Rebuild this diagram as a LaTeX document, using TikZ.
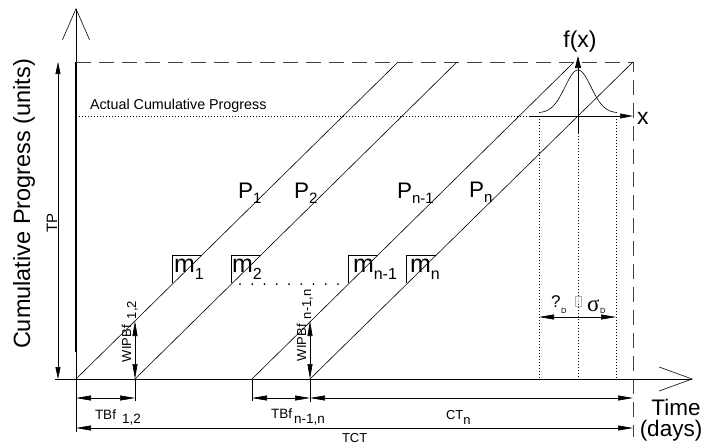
\documentclass[tikz,border=0pt]{standalone}
\usepackage{fontspec}
\setmainfont{Liberation Sans}
\newfontfamily\serfont{Liberation Serif}
\usetikzlibrary{arrows.meta}
\newcommand\fsz[1]{\fontsize{#1}{#1}\selectfont}
\begin{document}
\begin{tikzpicture}[x=1pt,y=-1pt,
  thinl/.style={line width=0.6pt},
  dimarr/.style={line width=0.6pt,{Triangle[length=15pt,width=5pt]}-{Triangle[length=15pt,width=5pt]}},
  dotl/.style={line width=0.6pt,dash pattern=on 1pt off 2pt},
  txt/.style={inner sep=0pt,outer sep=0pt},
]
\useasboundingbox (0,0) rectangle (707,445);
% key coordinates
\coordinate (O) at (76,379);
\coordinate (P1s) at (76,379);  \coordinate (P1e) at (398,62);
\coordinate (P2s) at (135,379); \coordinate (P2e) at (457,62);
\coordinate (P3s) at (252,379); \coordinate (P3e) at (574,62);
\coordinate (P4s) at (310,379); \coordinate (P4e) at (633,62);
% y axis
\draw[line width=1.6pt] (76,62) -- (76,352);
\draw[line width=0.9pt] (76,352) -- (O);
\draw[thinl,-{Straight Barb[length=31pt,width=27pt]}] (76,62) -- (76,8);
% x axis
\draw[line width=1pt] (55,379) -- (457,379);
\draw[thinl,-{Straight Barb[length=33pt,width=24pt]}] (457,379) -- (693,379);
% dashed limits
\draw[line width=1pt,black!75,dash pattern=on 15pt off 8pt] (76,62) -- (633,62) -- (633,437);
% actual progress dotted line
\draw[dotl] (76,116) -- (530,116);
\node[txt,anchor=base west,font=\fsz{14.3}] (acp) at (90,109.5) {Actual Cumulative Progress};
% TP dimension
\draw[line width=0.6pt,{Triangle[length=12pt,width=5pt]}-{Triangle[length=12pt,width=5pt]}] (58,62) -- (58,379);
\node[txt,rotate=90,anchor=south,font=\fsz{15}] (tp) at (57,223) {TP};
% axis titles
\node[txt,rotate=90,font=\fsz{23.5}] (ytitle) at (24,204) {Cumulative Progress (units)};
\node[txt,anchor=base,font=\fsz{22.5}] (xtitle1) at (676,415) {Time};
\node[txt,anchor=base,font=\fsz{22.5}] (xtitle2) at (671,436) {(days)};
% production lines
\draw[thinl] (P1s) -- (P1e);
\draw[thinl] (P2s) -- (P2e);
\draw[thinl] (P3s) -- (P3e);
\draw[thinl] (P4s) -- (P4e);
\node[txt,anchor=base west,font=\fsz{22.5}] (lp1) at (238,198) {P\raisebox{-5pt}{\fsz{15}1}};
\node[txt,anchor=base west,font=\fsz{22.5}] (lp2) at (294,198) {P\raisebox{-5pt}{\fsz{15}2}};
\node[txt,anchor=base west,font=\fsz{22.5}] (lp3) at (397,198) {P\raisebox{-5pt}{\fsz{15}n-1}};
\node[txt,anchor=base west,font=\fsz{22.5}] (lp4) at (469,197) {P\raisebox{-5pt}{\fsz{15}n}};
% slope boxes
\draw[thinl] (172,283) -- (172,255) -- (202,255);
\draw[thinl] (231,283) -- (231,255) -- (261,255);
\draw[thinl] (348,283) -- (348,255) -- (378,255);
\draw[thinl] (406,283) -- (406,255) -- (436,255);
\node[txt,anchor=base west,font=\fsz{25}] (m1) at (174,272) {m\raisebox{-7pt}{\fsz{16}1}};
\node[txt,anchor=base west,font=\fsz{25}] (m2) at (232,272) {m\raisebox{-7pt}{\fsz{16}2}};
\node[txt,anchor=base west,font=\fsz{25}] (m3) at (353,272) {m\raisebox{-7pt}{\fsz{16}n-1}};
\node[txt,anchor=base west,font=\fsz{25}] (m4) at (410,272) {m\raisebox{-7pt}{\fsz{16}n}};
\foreach \k in {0,...,8} \fill (240+\k*12.25,284) circle (1pt);
% WIP buffers
\draw[dimarr] (135,379) -- (135,321);
\draw[dimarr] (310,379) -- (310,321);
\node[txt,rotate=90,anchor=base west,font=\fsz{13}] (w1) at (131,362) {WIPBf\hspace{6pt}\raisebox{-5pt}{1,2}};
\node[txt,rotate=90,anchor=base west,font=\fsz{13}] (w2) at (306,361) {WIPBf\hspace{5pt}\raisebox{-5pt}{n-1,n}};
% extension lines
\draw[thinl] (76,379) -- (76,432);
\draw[thinl] (135,379) -- (135,401);
\draw[thinl] (252,379) -- (252,401);
\draw[thinl] (310,379) -- (310,402);
% time dimensions
\draw[dimarr] (76,398) -- (135,398);
\draw[dimarr] (252,398) -- (310,398);
\draw[dimarr] (310,398) -- (633,398);
\draw[dimarr] (76,428) -- (633,428);
\node[txt,anchor=base west,font=\fsz{13.5}] (t1) at (95,419) {TBf\hspace{6pt}\raisebox{-4.5pt}{1,2}};
\node[txt,anchor=base west,font=\fsz{13.5}] (t2) at (271,418) {TBf\hspace{2pt}\raisebox{-5pt}{n-1,n}};
\node[txt,anchor=base west,font=\fsz{13}] (ctn) at (446,419) {CT\raisebox{-5pt}{n}};
\node[txt,anchor=base west,font=\fsz{13}] (tct) at (342,442) {TCT};
% distribution
\draw[thinl,-{Triangle[length=13pt,width=5pt]}] (530,116) -- (633,116);
\node[txt,anchor=west,font=\fsz{23}] (xl) at (637,118) {x};
\draw[thinl,-{Triangle[length=12pt,width=6pt]}] (578,133) -- (578,56);
\draw[dotl] (578,133) -- (578,379);
\node[txt,font=\fsz{23}] (fx) at (580,42) {f(x)};
\draw[dotl] (539,116) -- (539,379);
\draw[dotl] (616,116) -- (616,379);
\draw[thinl,domain=539:617,samples=80,smooth] plot (\x,{113-43*exp(-0.5*(\x-578)*(\x-578)/169)});
\draw[dimarr] (539,317) -- (616,317);
\node[txt,anchor=base west,font=\fsz{17}] (mu) at (551,307) {?};
\node[txt,anchor=base west,font=\fsz{7.5}] (mud) at (561,313) {D};
\draw[gray!60,line width=0.5pt] (575,296) rectangle (581,306);
\draw[gray!60,line width=0.4pt,dash pattern=on 0.6pt off 0.9pt] (578,298) -- (578,304);
\node[txt,anchor=base west,font=\fsz{23}\serfont] (sg) at (587,311) {σ};
\node[txt,anchor=base west,font=\fsz{7.5}] (sgd) at (600,313) {D};
\end{tikzpicture}
\end{document}
